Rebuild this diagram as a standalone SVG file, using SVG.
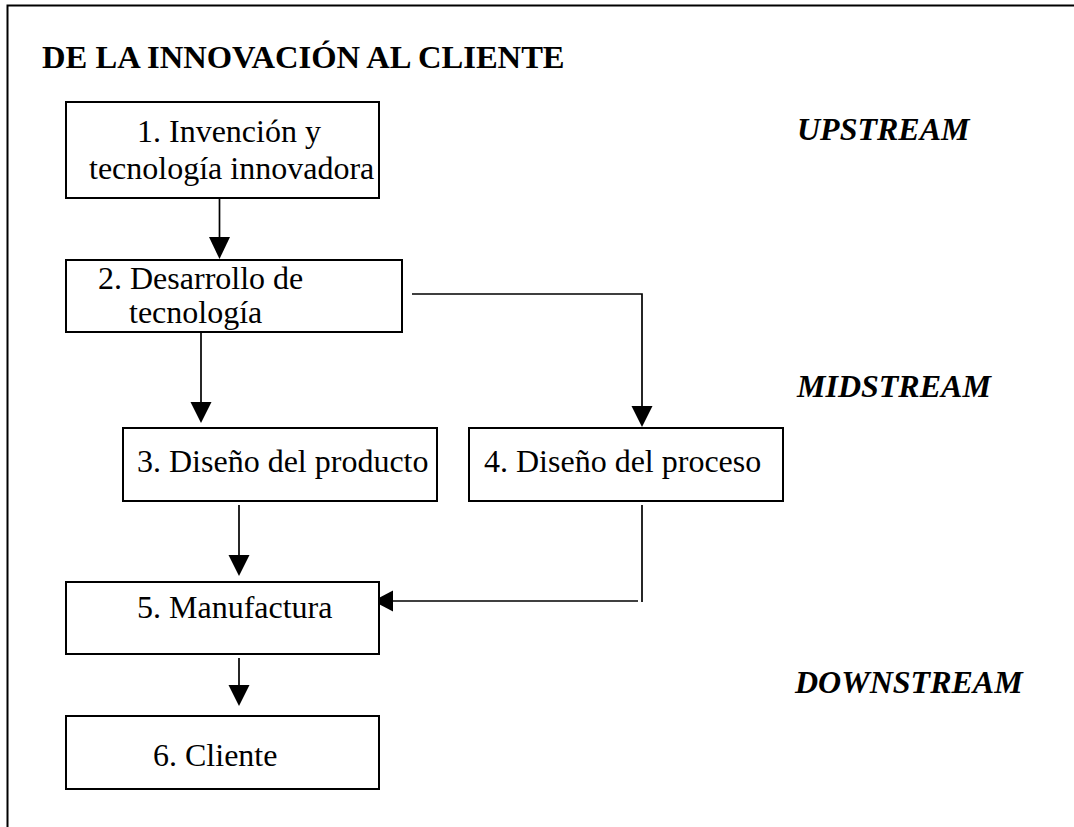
<svg xmlns="http://www.w3.org/2000/svg" width="1074" height="827" viewBox="0 0 1074 827">
<style>
.box{fill:#fff;stroke:#000;stroke-width:2}
.t{font-family:"Liberation Serif","Times New Roman",serif;font-size:32px;fill:#000}
.h{font-family:"Liberation Serif","Times New Roman",serif;font-size:32.6px;font-weight:bold;fill:#000}
.s{font-family:"Liberation Serif","Times New Roman",serif;font-size:32px;font-weight:bold;font-style:italic;fill:#000}
.c{fill:none;stroke:#000;stroke-width:1.7}
.ah{fill:#000}
</style>
<rect x="0" y="0" width="1074" height="827" fill="#fff"/>
<rect x="7.5" y="5.5" width="1120" height="900" fill="none" stroke="#000" stroke-width="2"/>
<text class="h" x="42" y="68">DE LA INNOVACIÓN AL CLIENTE</text>
<g id="labels">
<text class="s" x="797" y="140">UPSTREAM</text>
<text class="s" x="797" y="397">MIDSTREAM</text>
<text class="s" x="795" y="693">DOWNSTREAM</text>
</g>
<g id="connectors">
<line class="c" x1="219.5" y1="199" x2="219.5" y2="240"/>
<polygon class="ah" points="209,237 230,237 219.5,259"/>
<line class="c" x1="201" y1="333" x2="201" y2="405"/>
<polygon class="ah" points="190.5,402 211.5,402 201,423"/>
<polyline class="c" points="412,294 642,294 642,410"/>
<polygon class="ah" points="631.5,406 652.5,406 642,427"/>
<line class="c" x1="239" y1="505" x2="239" y2="558"/>
<polygon class="ah" points="228.5,555 249.5,555 239,576"/>
<line class="c" x1="642" y1="505" x2="642" y2="602"/>
<line class="c" x1="638" y1="601" x2="390" y2="601"/>
<polygon class="ah" points="393,590.5 393,611.5 373,601"/>
<line class="c" x1="239" y1="658" x2="239" y2="688"/>
<polygon class="ah" points="228.5,685 249.5,685 239,706"/>
</g>
<g id="n1">
<rect class="box" x="66" y="102" width="313" height="96"/>
<text class="t" x="137" y="142">1. Invención y</text>
<text class="t" x="89" y="179">tecnología innovadora</text>
</g>
<g id="n2">
<rect class="box" x="66" y="260" width="336" height="72"/>
<text class="t" x="98" y="289">2. Desarrollo de</text>
<text class="t" x="129" y="323">tecnología</text>
</g>
<g id="n3">
<rect class="box" x="123" y="428" width="314" height="73"/>
<text class="t" x="137" y="472">3. Diseño del producto</text>
</g>
<g id="n4">
<rect class="box" x="469" y="428" width="314" height="73"/>
<text class="t" x="484" y="472">4. Diseño del proceso</text>
</g>
<g id="n5">
<rect class="box" x="66" y="582" width="313" height="72"/>
<text class="t" x="137" y="618">5. Manufactura</text>
</g>
<g id="n6">
<rect class="box" x="66" y="716" width="313" height="73"/>
<text class="t" x="153" y="766">6. Cliente</text>
</g>
</svg>
